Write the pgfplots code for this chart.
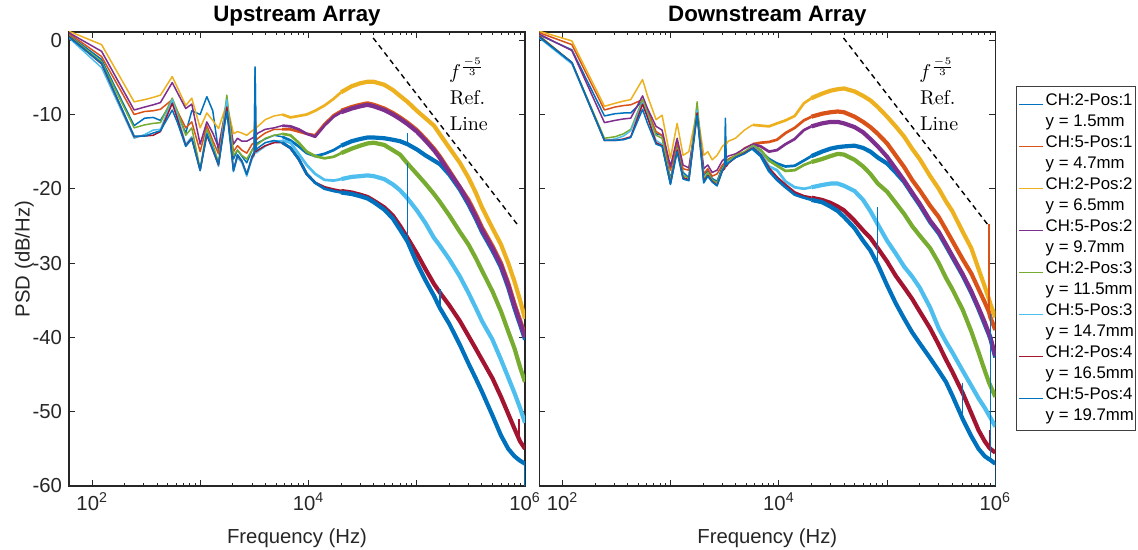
\documentclass[border=0pt]{standalone}
\usepackage{fontspec}
\newfontfamily\arial{Liberation Sans}
\usepackage{pgfplots}
\usepackage{pgfplotstable}
\pgfplotsset{compat=1.18}
\definecolor{c1}{rgb}{0,0.447,0.741}
\definecolor{c2}{rgb}{0.850,0.325,0.098}
\definecolor{c3}{rgb}{0.929,0.694,0.125}
\definecolor{c4}{rgb}{0.494,0.184,0.556}
\definecolor{c5}{rgb}{0.466,0.674,0.188}
\definecolor{c6}{rgb}{0.301,0.745,0.933}
\definecolor{c7}{rgb}{0.635,0.078,0.184}

% Upstream, low frequencies
\pgfplotstableread{
f      b1     o      y      p      g      lb     r      b8
61     0.7    0.9    1.2    1.0    0.6    0.3    0.5    0.4
122    -2.6   -2.2   -0.6   -1.5   -2.9   -3.7   -3.2   -3.1
244    -11.5  -10.0  -8.3   -9.4   -11.8  -13.2  -13.0  -12.9
305    -10.5  -9.6   -8.0   -9.0   -11.4  -12.7  -12.9  -12.9
366    -10.4  -9.5   -7.7   -8.7   -11.2  -12.1  -12.8  -12.5
427    -10.8  -9.3   -7.4   -8.4   -11.1  -12.0  -12.3  -12.2
549    -8.2   -8.0   -4.9   -5.7   -7.8   -8.0   -8.5   -9.4
610    -9.8   -9.5   -6.3   -7.0   -9.5   -10.0  -10.5  -11.0
732    -12.5  -11.8  -8.8   -9.2   -12.8  -14.0  -14.2  -14.3
832    -9.5   -11.0  -7.8   -8.6   -11.8  -13.0  -13.2  -13.3
994    -10.0  -15.0  -11.8  -14.0  -17.3  -17.6  -17.5  -17.5
1146   -7.6   -11.5  -9.8   -11.0  -12.0  -12.5  -12.8  -12.6
1300   -9.5   -13.5  -10.8  -12.5  -14.0  -14.5  -14.8  -14.7
1470   -15.0  -15.3  -11.9  -14.4  -16.5  -17.0  -16.8  -16.7
1754   -9.2   -8.8   -8.5   -8.5   -7.4   -8.0   -9.0   -9.6
2020   -16.0  -15.0  -12.6  -14.0  -15.5  -17.7  -17.5  -17.6
2200   -14.8  -14.2  -12.3  -13.2  -14.8  -15.8  -15.5  -15.4
2415   -15.6  -14.8  -12.5  -13.6  -15.5  -16.5  -16.3  -16.2
2680   -16.5  -15.2  -12.8  -13.6  -16.0  -18.3  -18.0  -18.1
3000   -14.8  -14.0  -12.2  -13.2  -14.8  -16.0  -15.8  -15.6
3150   -14.3  -13.8  -12.0  -13.0  -14.5  -15.5  -15.3  -15.0
3200   -3.8   -10.0  -11.0  -11.5  -11.0  -8.0   -7.5   -3.6
3260   -14.0  -13.5  -11.8  -12.8  -14.2  -15.2  -15.0  -14.8
3400   -13.8  -13.2  -11.6  -12.5  -14.0  -15.0  -14.8  -14.5
3970   -13.3  -12.5  -10.7  -12.0  -13.2  -14.3  -14.2  -13.8
4800   -12.8  -12.0  -10.2  -11.8  -12.8  -13.6  -13.8  -13.5
5700   -13.0  -12.0  -10.0  -11.5  -12.6  -13.5  -13.8  -13.8
}\UpLow

% Upstream, middle frequencies
\pgfplotstableread{
f      b1     o      y      p      g      lb     r      b8
5700   -13.0  -12.0  -10.0  -11.5  -12.6  -13.5  -13.8  -13.8
6800   -13.5  -12.0  -10.4  -11.6  -12.8  -13.8  -14.5  -14.5
8100   -14.3  -12.3  -10.2  -12.0  -13.8  -15.3  -16.0  -16.0
9600   -15.2  -12.6  -10.0  -12.6  -15.0  -16.8  -18.0  -18.0
11500  -15.6  -12.8  -9.5   -13.0  -15.6  -18.0  -19.2  -19.2
14000  -15.3  -11.3  -8.8   -11.5  -15.9  -18.8  -19.8  -20.0
17000  -14.8  -10.1  -7.9   -10.3  -15.7  -18.9  -20.1  -20.3
20000  -14.2  -9.5   -7.0   -9.7   -15.2  -18.7  -20.3  -20.5
}\UpMid

% Upstream, high frequencies
\pgfplotstableread{
f       b1     o      y      p      g      lb     r      b8
20000   -14.2  -9.5   -7.0   -9.7   -15.2  -18.7  -20.3  -20.5
25000   -13.6  -9.0   -6.2   -9.2   -14.6  -18.4  -20.5  -20.7
30000   -13.3  -8.7   -5.8   -8.9   -14.2  -18.3  -20.8  -21.0
35000   -13.1  -8.5   -5.6   -8.7   -13.9  -18.2  -21.1  -21.3
40000   -13.1  -8.7   -5.6   -8.9   -13.8  -18.3  -21.6  -21.8
50000   -13.2  -9.2   -6.0   -9.4   -14.1  -18.7  -22.5  -22.8
60000   -13.4  -9.8   -6.7   -10.0  -14.8  -19.4  -23.6  -24.0
70000   -13.6  -10.4  -7.5   -10.6  -15.4  -20.2  -25.0  -25.5
82000   -14.0  -11.1  -8.3   -11.3  -16.6  -21.3  -26.6  -27.1
100000  -14.7  -12.1  -9.5   -12.3  -18.0  -22.9  -28.7  -30.0
120000  -15.5  -13.3  -10.5  -13.5  -19.3  -24.6  -30.8  -32.3
144000  -16.2  -14.6  -11.5  -14.8  -20.7  -26.6  -32.8  -34.4
164000  -16.7  -15.7  -12.7  -15.9  -21.8  -27.7  -34.0  -36.1
200000  -18.1  -17.6  -14.5  -17.8  -23.6  -29.5  -35.7  -38.2
250000  -20.1  -19.8  -16.5  -19.8  -25.8  -31.8  -37.8  -41.0
300000  -22.1  -21.5  -18.5  -21.8  -27.5  -34.0  -39.8  -43.5
350000  -24.0  -23.4  -20.5  -23.7  -29.3  -36.0  -41.5  -45.5
400000  -25.8  -25.2  -22.5  -25.5  -31.0  -37.8  -43.0  -47.3
500000  -28.3  -27.7  -25.3  -28.0  -33.8  -40.3  -45.5  -50.5
600000  -30.6  -30.0  -27.5  -30.3  -36.5  -43.0  -48.0  -53.2
700000  -33.3  -32.7  -30.0  -33.0  -39.2  -45.4  -50.3  -55.0
800000  -36.1  -35.5  -32.5  -35.8  -41.5  -47.5  -52.3  -56.0
900000  -38.3  -37.7  -35.0  -38.0  -44.0  -49.5  -54.0  -56.6
1000000 -40.3  -39.7  -37.5  -40.0  -46.0  -51.5  -55.0  -57.0
}\UpHigh

% Downstream, low frequencies
\pgfplotstableread{
f      b1     o      y      p      g      lb     r      b8
61     0.7    1.0    1.2    0.8    0.6    0.3    0.5    0.4
122    -1.3   -0.6   -0.1   -1.4   -3.0   -3.2   -3.0   -3.0
244    -10.2  -9.4   -8.9   -11.1  -13.2  -13.5  -13.5  -13.5
305    -9.9   -9.0   -8.5   -10.8  -13.0  -13.3  -13.5  -13.5
366    -9.8   -8.8   -8.2   -10.6  -12.6  -12.9  -13.3  -13.4
427    -9.8   -8.7   -8.0   -10.5  -12.0  -12.2  -13.0  -13.1
549    -8.2   -8.0   -5.3   -7.5   -8.0   -8.4   -8.6   -9.3
610    -9.8   -9.5   -7.5   -9.2   -9.8   -10.2  -10.4  -11.2
732    -12.6  -12.3  -10.7  -11.6  -12.8  -13.5  -13.8  -14.0
832    -12.8  -12.8  -10.1  -12.1  -13.2  -14.0  -14.2  -14.3
994    -18.8  -17.5  -15.9  -17.0  -19.0  -19.4  -19.3  -19.4
1146   -14.0  -13.7  -11.2  -13.2  -14.5  -14.8  -14.8  -15.0
1300   -17.8  -17.3  -15.5  -16.8  -18.2  -18.6  -18.5  -18.7
1470   -18.5  -17.5  -15.0  -17.2  -18.6  -18.9  -18.8  -18.9
1754   -9.5   -10.0  -9.5   -9.7   -8.3   -9.4   -9.8   -10.1
2020   -18.2  -18.0  -15.5  -17.3  -18.8  -19.2  -19.0  -19.2
2200   -17.5  -17.3  -15.0  -16.8  -17.8  -18.3  -18.2  -18.3
2415   -18.6  -18.3  -16.1  -17.8  -18.8  -19.0  -19.0  -19.1
2680   -19.0  -18.0  -15.5  -17.5  -19.2  -19.6  -19.5  -19.6
3000   -17.0  -16.8  -14.3  -16.2  -17.3  -17.6  -17.6  -17.5
3150   -16.6  -16.5  -14.0  -16.0  -16.8  -17.2  -17.3  -17.0
3200   -10.5  -15.5  -13.5  -15.0  -16.0  -16.5  -16.8  -13.0
3260   -16.4  -16.3  -14.0  -15.8  -16.5  -17.0  -17.0  -16.8
3400   -16.0  -16.0  -13.6  -15.6  -16.2  -16.5  -16.6  -16.5
3970   -15.7  -15.5  -13.2  -15.3  -15.5  -15.8  -15.8  -15.8
4800   -15.2  -14.5  -12.1  -14.6  -15.0  -15.2  -15.2  -15.3
5700   -14.6  -14.0  -11.4  -14.0  -14.2  -14.4  -14.5  -14.6
}\DnLow

% Downstream, middle frequencies
\pgfplotstableread{
f      b1     o      y      p      g      lb     r      b8
5700   -14.6  -14.0  -11.4  -14.0  -14.2  -14.4  -14.5  -14.6
6800   -15.0  -13.8  -11.5  -14.3  -14.8  -15.3  -15.5  -15.6
8100   -16.0  -13.7  -11.6  -15.0  -16.2  -17.0  -17.3  -17.6
9600   -16.6  -13.4  -11.2  -14.8  -16.9  -17.5  -18.5  -18.8
11500  -17.0  -12.5  -10.8  -14.0  -17.6  -19.0  -19.5  -19.8
14000  -16.9  -11.8  -10.2  -13.3  -17.5  -19.8  -20.5  -20.8
17000  -16.2  -10.8  -8.5   -12.1  -16.8  -20.0  -21.0  -21.2
20000  -15.6  -10.3  -7.8   -11.6  -16.4  -19.8  -21.2  -21.5
}\DnMid

% Downstream, high frequencies
\pgfplotstableread{
f       b1     o      y      p      g      lb     r      b8
20000   -15.6  -10.3  -7.8   -11.6  -16.4  -19.8  -21.2  -21.5
25000   -15.0  -9.9   -7.2   -11.2  -16.0  -19.5  -21.5  -21.8
30000   -14.6  -9.7   -6.8   -11.0  -15.6  -19.3  -21.9  -22.4
35000   -14.4  -9.6   -6.6   -11.0  -15.3  -19.3  -22.4  -23.0
40000   -14.3  -9.7   -6.5   -11.2  -15.4  -19.6  -22.9  -23.8
50000   -14.2  -10.3  -6.9   -11.7  -16.1  -20.3  -24.3  -25.3
60000   -14.5  -11.0  -7.5   -12.4  -17.0  -21.5  -25.6  -27.0
70000   -15.0  -11.7  -8.1   -13.3  -18.0  -23.0  -26.6  -28.3
82000   -15.8  -12.6  -9.0   -14.3  -19.3  -24.8  -28.0  -30.2
100000  -16.6  -13.9  -10.3  -15.7  -20.4  -27.0  -29.8  -33.0
120000  -17.8  -15.5  -11.6  -17.3  -21.9  -28.7  -31.7  -35.4
144000  -19.1  -17.1  -13.0  -18.9  -23.4  -30.5  -33.3  -37.5
170000  -20.7  -18.8  -14.6  -20.5  -25.0  -31.8  -34.8  -39.3
200000  -22.2  -20.2  -16.0  -22.0  -26.3  -33.3  -36.5  -40.8
250000  -24.5  -22.3  -18.3  -24.3  -28.0  -36.0  -38.8  -42.8
300000  -26.0  -23.8  -20.0  -25.8  -30.0  -38.8  -41.0  -44.5
350000  -27.7  -25.5  -21.7  -27.5  -32.0  -40.6  -43.0  -46.0
400000  -29.2  -27.0  -23.0  -29.0  -33.5  -42.0  -44.6  -47.8
500000  -31.7  -29.5  -25.8  -31.5  -36.3  -44.5  -47.5  -51.0
600000  -34.0  -31.4  -28.0  -33.8  -39.2  -46.5  -50.2  -53.3
700000  -36.2  -33.5  -30.8  -36.0  -42.0  -48.2  -52.5  -55.0
800000  -38.3  -35.3  -33.2  -38.0  -44.5  -49.5  -54.0  -56.0
875000  -39.7  -36.6  -34.9  -39.5  -46.1  -50.5  -54.8  -56.4
900000  -40.2  -37.3  -35.5  -40.0  -46.5  -50.8  -55.0  -56.5
1000000 -42.7  -39.0  -37.3  -42.5  -48.0  -52.0  -55.5  -57.0
}\DnHigh

\newcommand\ser[5]{%
  \addplot[color=#5, line width=0.75pt, line join=round] table[x=f,y=#4]{#1};
  \addlegendimage{empty legend}
  \addplot[color=#5, line width=1.35pt, line join=round, forget plot] table[x=f,y=#4]{#2};
  \addplot[color=#5, line width=2.1pt, line join=round, forget plot] table[x=f,y=#4]{#3};
}
\newcommand\allser[3]{%
  \ser{#1}{#2}{#3}{b1}{c1}
  \ser{#1}{#2}{#3}{o}{c2}
  \ser{#1}{#2}{#3}{y}{c3}
  \ser{#1}{#2}{#3}{p}{c4}
  \ser{#1}{#2}{#3}{g}{c5}
  \ser{#1}{#2}{#3}{lb}{c6}
  \ser{#1}{#2}{#3}{r}{c7}
  \ser{#1}{#2}{#3}{b8}{c1}
}
\newcommand\annot{%
  \addplot[black, dash pattern=on 2.6pt off 2pt, line width=0.7pt, forget plot] coordinates {(39500,0.3) (870000,-25)};
  \node[anchor=base west, inner sep=0pt, font=\fontsize{10}{12}\selectfont] at (axis cs:197000,-5.1) {$f^{\frac{-5}{3}}$};
  \node[anchor=base west, inner sep=0pt, font=\fontsize{10}{12}\selectfont] at (axis cs:200000,-8.6) {Ref.};
  \node[anchor=base west, inner sep=0pt, font=\fontsize{10}{12}\selectfont] at (axis cs:200000,-12.1) {Line};
}
\pgfplotsset{spike/.style={line width=0.6pt, forget plot}}

\begin{document}
\begin{tikzpicture}
\useasboundingbox (-34.5pt,-32pt) rectangle (534.5pt,243pt);
\begin{axis}[
  scale only axis, width=228pt, height=227pt,
  xmode=log, xmin=61, xmax=1000000, ymin=-60, ymax=1.1,
  xtick={100,1000,10000,100000,1000000},
  xticklabels={10\textsuperscript{2},,10\textsuperscript{4},,10\textsuperscript{6}},
  ytick={-60,-50,-40,-30,-20,-10,0},
  yticklabels={-60,-50,-40,-30,-20,-10,0},
  tick align=inside, major tick length=3pt, minor tick length=1.6pt,
  axis line style={black!85, line width=0.6pt},
  tick style={black!85, line width=0.5pt},
  tick label style={font=\arial\fontsize{10.15}{12}\selectfont, text=black!85},
  label style={font=\arial\fontsize{10.15}{12}\selectfont, text=black!85},
  title style={font=\arial\bfseries\fontsize{11.15}{13}\selectfont, anchor=base, yshift=-0.6pt},
  title={Upstream Array},
  xlabel={Frequency (Hz)},
  xlabel style={at={(axis description cs:0.5,-0.1145)}, anchor=center},
  ylabel={PSD (dB/Hz)},
  ylabel style={at={(axis description cs:-0.098,0.5)}, anchor=center},
  at={(0pt,0pt)}, anchor=south west]
  \allser{\UpLow}{\UpMid}{\UpHigh}
  \addplot[c1, spike] coordinates {(82000,-14.0) (82000,-12.5)};
  \addplot[c7, spike] coordinates {(880000,-53.8) (880000,-51.0)};
  \addplot[c1, spike] coordinates {(82000,-27.1) (82000,-16.5)};
  \addplot[c1, spike] coordinates {(164000,-36.1) (164000,-33.5)};
  \addplot[c1, spike] coordinates {(1000000,-57.0) (1000000,-60)};
  \annot
\end{axis}
\begin{axis}[
  scale only axis, width=228pt, height=227pt,
  xmode=log, xmin=61, xmax=1000000, ymin=-60, ymax=1.1,
  xtick={100,1000,10000,100000,1000000},
  xticklabels={10\textsuperscript{2},,10\textsuperscript{4},,10\textsuperscript{6}},
  ytick={-60,-50,-40,-30,-20,-10,0},
  yticklabels={},
  tick align=inside, major tick length=3pt, minor tick length=1.6pt,
  axis line style={black!85, line width=0.6pt},
  tick style={black!85, line width=0.5pt},
  tick label style={font=\arial\fontsize{10.15}{12}\selectfont, text=black!85},
  label style={font=\arial\fontsize{10.15}{12}\selectfont, text=black!85},
  title style={font=\arial\bfseries\fontsize{11.15}{13}\selectfont, anchor=base, yshift=-0.6pt},
  title={Downstream Array},
  xlabel={Frequency (Hz)},
  xlabel style={at={(axis description cs:0.5,-0.1145)}, anchor=center},
  at={(235.15pt,0pt)}, anchor=south west,
  legend cell align=left,
  legend style={at={(1.0454,0.881)}, anchor=north west, draw=black!75, line width=0.5pt,
    fill=white, inner xsep=1pt, inner ysep=2pt,
    font=\arial\fontsize{8.4}{10.5}\selectfont,
    nodes={inner sep=0pt, text height=7.35pt, text depth=3.15pt},
    row sep=0pt,
    /tikz/every odd column/.style={column sep=1pt}},
  legend image code/.code={\draw[#1, line width=0.6pt] (0pt,-1.6pt) -- (12pt,-1.6pt);},
  legend entries={CH:2-Pos:1,y = 1.5mm,CH:5-Pos:1,y = 4.7mm,
    CH:2-Pos:2,y = 6.5mm,CH:5-Pos:2,y = 9.7mm,
    CH:2-Pos:3,y = 11.5mm,CH:5-Pos:3,y = 14.7mm,
    CH:2-Pos:4,y = 16.5mm,CH:5-Pos:4,y = 19.7mm}]
  \allser{\DnLow}{\DnMid}{\DnHigh}
  \addplot[c1, spike] coordinates {(82000,-30.2) (82000,-22.5)};
  \addplot[c1, spike] coordinates {(500000,-51.0) (500000,-46.2)};
  \addplot[c7, spike] coordinates {(890000,-54.9) (890000,-52.5)};
  \addplot[c2, spike] coordinates {(875000,-36.6) (875000,-24.7)};
  \addplot[c1, spike] coordinates {(900000,-56.5) (900000,-36.8)};
  \addplot[c1, spike] coordinates {(1000000,-57.0) (1000000,-60)};
  \annot
\end{axis}
\end{tikzpicture}
\end{document}
